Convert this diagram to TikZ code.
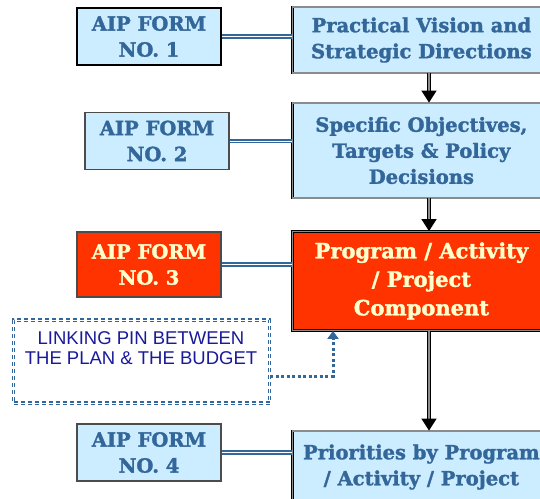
\documentclass[tikz,border=0pt]{standalone}
\usepackage{fontspec}
\setmainfont{DejaVu Serif}[BoldFeatures={FakeBold=1.6}]
\setsansfont{Liberation Sans}
\usetikzlibrary{arrows.meta}

\definecolor{steel}{HTML}{336699}
\definecolor{paleblue}{HTML}{CCECFF}
\definecolor{aipred}{HTML}{FF3300}
\definecolor{cream}{HTML}{FFFFCC}
\definecolor{navy}{HTML}{1A1A99}

\begin{document}
\begin{tikzpicture}[x=1pt,y=-1pt]
\tikzstyle{form}=[draw=black!70, line width=1.2pt, fill=paleblue, text=steel, align=center,
  minimum width=144pt, minimum height=57pt, inner sep=0pt,
  font=\bfseries\fontsize{19.5}{26}\selectfont]
\tikzstyle{stage}=[draw=black, line width=0.8pt, double=black!45, double distance=1.2pt,
  fill=paleblue, text=steel, align=center, anchor=west, minimum width=258pt, inner sep=0pt,
  font=\bfseries\fontsize{19.5}{26}\selectfont]
\tikzstyle{hot}=[fill=aipred, text=cream]
\tikzstyle{link}=[draw=steel, line width=1.6pt, double=white, double distance=1pt]
\tikzstyle{flow}=[draw=black, line width=1.4pt, double=black!45, double distance=1.4pt,
  -{Triangle[length=12pt,width=15pt]}]
\tikzstyle{pinbox}=[draw=steel, line width=1.4pt, double=white, double distance=0.8pt,
  dash pattern=on 4pt off 3pt, minimum width=256pt, minimum height=83pt]
\tikzstyle{pinarrow}=[draw=steel, line width=3pt, dash pattern=on 3pt off 2.5pt,
  -{Triangle[length=8pt,width=11pt]}]

\useasboundingbox (0,0) rectangle (540,498);
\clip (0,0) rectangle (540,498);

\draw (149,36.5) node (f1) [form, draw=black, line width=1.8pt] {AIP FORM\\NO. 1};
\draw (157,141) node (f2) [form] {AIP FORM\\NO. 2};
\draw (149,264.5) node (f3) [form, hot, minimum height=65pt] {AIP FORM\\NO. 3};
\draw (149,452.5) node (f4) [form] {AIP FORM\\NO. 4};

\draw (292,40) node (b1) [stage, minimum height=66pt] {Practical Vision and\\Strategic Directions};
\draw (292,150.5) node (b2) [stage, minimum height=95pt] {Specific Objectives,\\Targets \& Policy\\Decisions};
\draw (292,281) node (b3) [stage, hot, minimum height=99pt,
  font=\bfseries\fontsize{21}{28.5}\selectfont] {Program / Activity\\/ Project\\Component};
\draw (292,467) node (b4) [stage, minimum height=72pt] {Priorities by Program\\/ Activity / Project};

\coordinate (ax) at (429,0);
\draw[flow] (b1.south -| ax) -- (b2.north -| ax);
\draw[flow] (b2.south -| ax) -- (b3.north -| ax);
\draw[flow] (b3.south -| ax) -- (b4.north -| ax);

\draw[link] (f1.east) -- (f1.east -| b1.west);
\draw[link] (f2.east) -- (f2.east -| b2.west);
\draw[link] (f3.east) -- (f3.east -| b3.west);
\draw[link] (f4.east) -- (f4.east -| b4.west);

\draw (141.5,361.5) node (pin) [pinbox] {};
\draw (141,348) node (pintext) [align=center, text=navy, font=\sffamily\fontsize{18.5}{20.5}\selectfont]
  {LINKING PIN BETWEEN\\THE PLAN \& THE BUDGET};
\coordinate (px) at (333,0);
\draw[pinarrow] ([yshift=-14.5pt]pin.east) -| (b3.south -| px);
\end{tikzpicture}
\end{document}
